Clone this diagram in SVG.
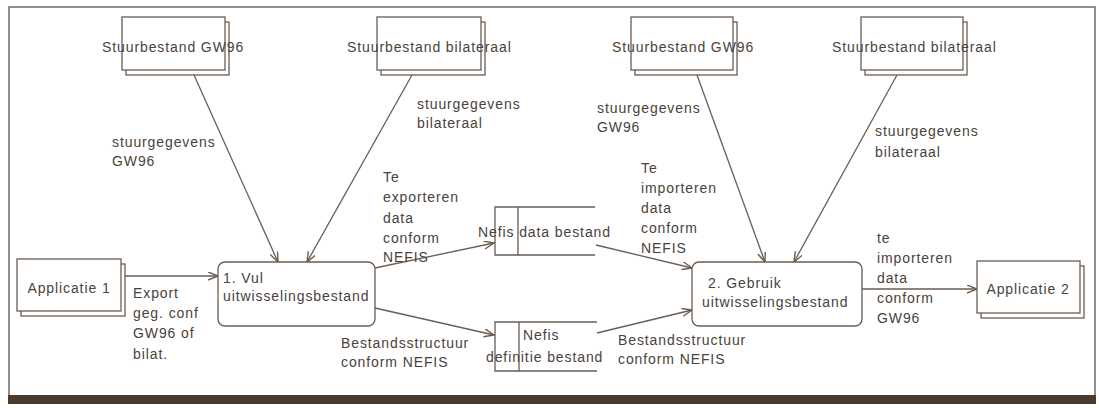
<svg xmlns="http://www.w3.org/2000/svg" width="1099" height="408" viewBox="0 0 1099 408">
<defs>
<style>
.t{font-family:"Liberation Sans",Arial,sans-serif;font-size:14px;letter-spacing:0.9px;fill:#4a423b}
.b{fill:#fff;stroke:#6a5d52;stroke-width:1.3}
.c{fill:none;stroke:#6a5d52;stroke-width:1.3}
.fr{fill:none;stroke:#7a6a5c;stroke-width:1.5}
</style>
<marker id="ah" markerUnits="userSpaceOnUse" markerWidth="12" markerHeight="10" refX="10" refY="4" orient="auto">
<path d="M0,0 L10,4 L0,8" fill="none" stroke="#6a5d52" stroke-width="1.4"/>
</marker>
</defs>
<rect width="1099" height="408" fill="#fff"/>
<g id="frame">
<path class="fr" d="M9,396 L9,7 L1095,7 L1095,396"/>
<rect x="8" y="395" width="1088" height="9" fill="#4b3b2f"/>
</g>
<g id="connectors">
<line class="c" x1="194" y1="75" x2="278" y2="262" marker-end="url(#ah)"/>
<line class="c" x1="412" y1="75" x2="307" y2="262" marker-end="url(#ah)"/>
<line class="c" x1="697" y1="75" x2="765" y2="262" marker-end="url(#ah)"/>
<line class="c" x1="897" y1="75" x2="794" y2="262" marker-end="url(#ah)"/>
<line class="c" x1="125" y1="276" x2="218" y2="276" marker-end="url(#ah)"/>
<line class="c" x1="375" y1="268" x2="494" y2="243" marker-end="url(#ah)"/>
<line class="c" x1="375" y1="308" x2="494" y2="335" marker-end="url(#ah)"/>
<line class="c" x1="596" y1="245" x2="692" y2="268" marker-end="url(#ah)"/>
<line class="c" x1="597" y1="333" x2="692" y2="310" marker-end="url(#ah)"/>
<line class="c" x1="862" y1="289" x2="977" y2="289" marker-end="url(#ah)"/>
</g>
<g id="labels">
<text class="t" x="112"><tspan x="112" y="147">stuurgegevens</tspan><tspan x="112" y="166">GW96</tspan></text>
<text class="t"><tspan x="417" y="109">stuurgegevens</tspan><tspan x="417" y="128">bilateraal</tspan></text>
<text class="t"><tspan x="597" y="113">stuurgegevens</tspan><tspan x="597" y="132">GW96</tspan></text>
<text class="t"><tspan x="875" y="136">stuurgegevens</tspan><tspan x="875" y="157">bilateraal</tspan></text>
<text class="t"><tspan x="383" y="182">Te</tspan><tspan x="383" y="202">exporteren</tspan><tspan x="383" y="223">data</tspan><tspan x="383" y="243">conform</tspan><tspan x="383" y="262">NEFIS</tspan></text>
<text class="t"><tspan x="641" y="173">Te</tspan><tspan x="641" y="193">importeren</tspan><tspan x="641" y="213">data</tspan><tspan x="641" y="233">conform</tspan><tspan x="641" y="253">NEFIS</tspan></text>
<text class="t"><tspan x="877" y="243">te</tspan><tspan x="877" y="263">importeren</tspan><tspan x="877" y="283">data</tspan><tspan x="877" y="303">conform</tspan><tspan x="877" y="323">GW96</tspan></text>
<text class="t"><tspan x="133" y="298">Export</tspan><tspan x="133" y="318">geg. conf</tspan><tspan x="133" y="338">GW96 of</tspan><tspan x="133" y="359">bilat.</tspan></text>
<text class="t"><tspan x="341" y="348">Bestandsstructuur</tspan><tspan x="341" y="367">conform NEFIS</tspan></text>
<text class="t"><tspan x="618" y="345">Bestandsstructuur</tspan><tspan x="618" y="364">conform NEFIS</tspan></text>
</g>
<g id="stuur1">
<rect class="b" x="126" y="22" width="103" height="53"/>
<rect class="b" x="122" y="17" width="103" height="53"/>
<text class="t" x="102" y="52">Stuurbestand GW96</text>
</g>
<g id="stuur2">
<rect class="b" x="381" y="22" width="104" height="53"/>
<rect class="b" x="377" y="17" width="104" height="53"/>
<text class="t" x="347" y="52">Stuurbestand bilateraal</text>
</g>
<g id="stuur3">
<rect class="b" x="635" y="22" width="102" height="53"/>
<rect class="b" x="631" y="17" width="102" height="53"/>
<text class="t" x="612" y="52">Stuurbestand GW96</text>
</g>
<g id="stuur4">
<rect class="b" x="865" y="22" width="102" height="53"/>
<rect class="b" x="861" y="17" width="102" height="53"/>
<text class="t" x="832" y="52">Stuurbestand bilateraal</text>
</g>
<g id="app1">
<rect class="b" x="21" y="264" width="104" height="52"/>
<rect class="b" x="17" y="259" width="104" height="52"/>
<text class="t" x="69" y="293" text-anchor="middle">Applicatie 1</text>
</g>
<g id="app2">
<rect class="b" x="981" y="266" width="103" height="52"/>
<rect class="b" x="977" y="261" width="103" height="52"/>
<text class="t" x="1028" y="294" text-anchor="middle">Applicatie 2</text>
</g>
<g id="proc1">
<rect class="b" x="218" y="262" width="157" height="64" rx="7"/>
<text class="t"><tspan x="223" y="283">1. Vul</tspan><tspan x="223" y="301">uitwisselingsbestand</tspan></text>
</g>
<g id="proc2">
<rect class="b" x="692" y="262" width="170" height="64" rx="7"/>
<text class="t"><tspan x="708" y="288">2. Gebruik</tspan><tspan x="702" y="307">uitwisselingsbestand</tspan></text>
</g>
<g id="store1">
<path class="c" d="M595,207 L495,207 L495,255 L595,255 M518,207 L518,255"/>
<text class="t" x="478" y="237">Nefis data bestand</text>
</g>
<g id="store2">
<path class="c" d="M597,322 L495,322 L495,371 L597,371 M519,322 L519,371"/>
<text class="t"><tspan x="523" y="340">Nefis</tspan><tspan x="486" y="362">definitie bestand</tspan></text>
</g>
</svg>
